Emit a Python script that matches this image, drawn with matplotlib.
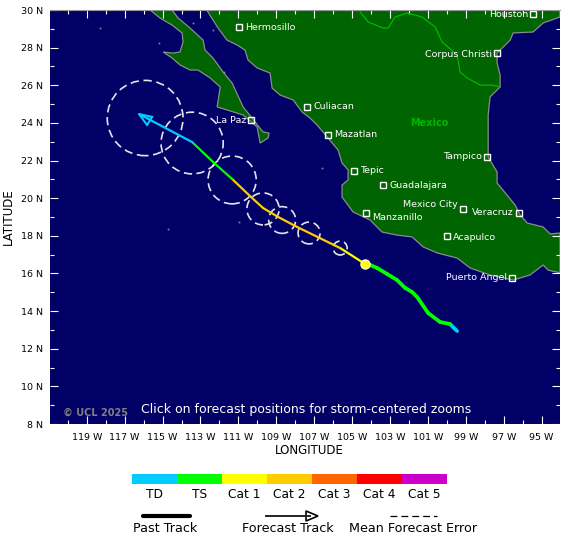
"""Hurricane track map: forecast track over Mexico's Pacific coast."""
import matplotlib
matplotlib.use("Agg")
import matplotlib.pyplot as plt
from matplotlib.patches import Ellipse, Polygon

W, H = 580, 544

SEA = "#000066"
LAND = "#006400"
COAST = "#8c8c8c"

CAT_NAMES = ["TD", "TS", "Cat 1", "Cat 2", "Cat 3", "Cat 4", "Cat 5"]
CAT_COLORS = ["#00ccff", "#00ff00", "#ffff00", "#ffcc00", "#ff6600", "#ff0000", "#cc00cc"]

# coastlines (degrees west, degrees north)
main_west_lon = [112.67, 112.34, 112.07, 111.60, 111.07, 110.65, 110.49, 110.01, 109.33, 109.22,
                 108.80, 108.11, 107.64, 107.22, 106.85, 106.27, 105.74, 105.53, 105.21, 105.21,
                 105.53, 105.53, 104.95, 104.05, 103.42, 102.63, 101.83, 101.25, 100.51, 99.46,
                 98.77, 97.72, 96.50, 95.61, 94.92, 94.66, 94.03]
main_west_lat = [30.00, 29.47, 29.04, 28.40, 28.14, 27.87, 27.34, 26.92, 26.65, 25.85,
                 25.48, 25.22, 24.58, 24.26, 23.89, 23.20, 22.56, 21.87, 21.50, 20.97,
                 20.70, 20.06, 19.27, 18.84, 18.20, 18.04, 17.94, 17.41, 17.09, 16.82,
                 16.29, 15.92, 15.65, 15.92, 16.45, 16.18, 16.03]
main_east_lon = [94.03, 94.55, 94.92, 95.76, 96.13, 96.40, 97.35, 97.35, 97.82, 97.82,
                 97.82, 97.72, 97.19, 97.19, 97.35, 97.35, 96.66, 96.50, 95.45, 94.92, 94.03, 94.03]
main_east_lat = [18.15, 18.10, 18.47, 18.68, 19.11, 19.64, 20.81, 21.39, 22.19, 23.46,
                 24.42, 25.38, 25.91, 26.55, 27.18, 27.71, 28.40, 28.78, 28.83, 29.31, 29.63, 30.00]
baja_lon = [115.66, 115.13, 114.50, 113.97, 113.92, 114.08, 114.45, 114.97, 114.50, 114.08,
            113.55, 113.13, 112.49, 111.96, 112.12, 111.60, 110.75, 110.01, 109.85, 109.43,
            109.38, 109.70, 110.12, 110.75, 111.33, 111.81, 112.34, 112.76, 112.86, 113.55,
            114.18, 114.50]
baja_lat = [30.00, 29.57, 29.20, 28.78, 28.30, 27.77, 27.71, 27.77, 27.45, 27.08,
            26.81, 26.81, 26.39, 25.91, 24.85, 24.69, 24.42, 23.78, 22.93, 23.20,
            23.46, 23.52, 24.05, 24.85, 26.12, 26.71, 27.45, 27.87, 28.40, 29.04,
            29.57, 30.00]
border_lon = [104.57, 104.15, 103.36, 103.10, 102.73, 102.10, 101.31, 100.62, 100.25, 99.46,
              99.30, 98.93, 98.24, 97.61, 97.19]
border_lat = [29.89, 29.36, 29.04, 29.04, 29.63, 29.84, 29.63, 29.10, 28.30, 27.61,
              26.70, 26.39, 26.01, 26.01, 25.91]
island_lon = [118.30, 115.19, 106.58, 110.96, 114.71, 113.39, 112.34, 111.75]
island_lat = [29.04, 28.25, 21.60, 18.74, 18.36, 29.31, 28.94, 26.70]

city_names = ["Hermosillo", "La Paz", "Culiacan", "Mazatlan", "Tepic", "Guadalajara", "Manzanillo",
              "Mexico City", "Veracruz", "Tampico", "Corpus Christi", "Houston", "Acapulco",
              "Puerto Angel"]
city_lon = [110.96, 110.33, 107.37, 106.27, 104.89, 103.36, 104.26,
            99.14, 96.19, 97.87, 97.35, 95.45, 99.99, 96.56]
city_lat = [29.09, 24.15, 24.85, 23.36, 21.45, 20.70, 19.21,
            19.43, 19.21, 22.19, 27.71, 29.79, 17.98, 15.76]
# label placement relative to the square: side, dy px
city_side = ["r", "l", "r", "r", "r", "r", "r", "l", "l", "l", "l", "l", "r", "l"]
city_dy = [0, 0, 0, 0, 0, 0, -4, 4, 1, 0, -1, -1, -1, 0]

past_lon = [99.46, 99.83, 100.36, 100.99, 101.57, 101.83, 102.20, 102.63, 103.15, 103.68, 104.05, 104.31]
past_lat = [12.94, 13.31, 13.42, 13.90, 14.75, 15.01, 15.23, 15.65, 15.97, 16.29, 16.45, 16.50]
past_cat = [0, 1, 1, 1, 1, 1, 1, 1, 1, 1, 1]

fcst_lon = [104.31, 105.63, 107.90, 108.90, 109.70, 110.33, 111.33, 112.28, 113.44, 116.24]
fcst_lat = [16.50, 17.35, 18.47, 19.00, 19.48, 20.06, 21.02, 21.87, 22.98, 24.47]
fcst_cat = [2, 3, 3, 3, 3, 3, 1, 1, 0]

err_lon = [115.92, 113.44, 111.33, 109.70, 108.69, 107.27, 105.63]
err_lat = [24.26, 22.93, 20.97, 19.43, 18.84, 18.15, 17.35]
err_radius = [2.00, 1.64, 1.27, 0.85, 0.71, 0.58, 0.37]

arrow_lon = [116.24, 115.82, 115.55]
arrow_lat = [24.47, 23.89, 24.32]

major_lons = list(range(119, 94, -2))
minor_lons = list(range(120, 94, -2))
major_lats = list(range(8, 31, 2))
minor_lats = list(range(9, 30, 2))

LON_MAX, LON_MIN = 120.94, 94.03


def px_text(fig, x, y, s, **kw):
    fig.text(x / W, 1 - y / H, s, va="center", **kw)


fig = plt.figure(figsize=(W / 100, H / 100), dpi=100)
ax = fig.add_axes([50 / W, 1 - 424 / H, 510 / W, 414 / H], facecolor=SEA)
ax.set_xlim(LON_MAX, LON_MIN)
ax.set_ylim(8, 30)

ax.add_patch(Polygon(list(zip(main_west_lon + main_east_lon, main_west_lat + main_east_lat)),
                     closed=True, fc=LAND, ec=COAST, lw=0.9, zorder=1))
ax.add_patch(Polygon(list(zip(baja_lon, baja_lat)), closed=True, fc=LAND, ec=COAST, lw=0.9, zorder=1))
ax.plot(border_lon, border_lat, color="#00c000", lw=0.8, zorder=2)
ax.plot(island_lon, island_lat, ls="none", marker="s", ms=1.2, mfc=COAST, mec="none", zorder=2)

for lon, lat, r in zip(err_lon, err_lat, err_radius):
    ax.add_patch(Ellipse((lon, lat), 2 * r, 2 * r, fc="none", ec="#e4e4ee", lw=1.2,
                         ls=(0, (5, 2.8)), zorder=3))

for i, cat in enumerate(past_cat):
    ax.plot(past_lon[i:i + 2], past_lat[i:i + 2], color=CAT_COLORS[cat], lw=2.7,
            solid_capstyle="round", zorder=4)
for i, cat in enumerate(fcst_cat):
    ax.plot(fcst_lon[i:i + 2], fcst_lat[i:i + 2], color=CAT_COLORS[cat], lw=1.6,
            solid_capstyle="round", zorder=4)
ax.add_patch(Polygon(list(zip(arrow_lon, arrow_lat)), closed=True, fc="none",
                     ec=CAT_COLORS[0], lw=1.5, zorder=4))
ax.plot(past_lon[-1], past_lat[-1], marker="o", ms=6.5, mfc="#ffff00", mec="#ffffcc", mew=1, zorder=5)

ax.plot(city_lon, city_lat, ls="none", marker="s", ms=4.8, mfc="none", mec="white", mew=1, zorder=5)
for name, lon, lat, side, dy in zip(city_names, city_lon, city_lat, city_side, city_dy):
    dx = 6 if side == "r" else -5
    ax.annotate(name, (lon, lat), xytext=(dx * 0.72, dy * 0.72), textcoords="offset points",
                ha="left" if side == "r" else "right", va="center", color="white",
                fontsize=6.8, zorder=6)
ax.text(100.94, 24.0, "Mexico", color="#00b400", fontsize=7, fontweight="bold",
        ha="center", va="center", zorder=3)

ax.set_xticks(major_lons)
ax.set_xticklabels([f"{v} W" for v in major_lons], fontsize=6.8)
ax.set_xticks(minor_lons, minor=True)
ax.set_yticks(major_lats)
ax.set_yticklabels([f"{v} N" for v in major_lats], fontsize=6.8)
ax.set_yticks(minor_lats, minor=True)
ax.tick_params(which="major", direction="in", length=5.8, width=0.8, color="white",
               top=True, right=True, pad=5)
ax.tick_params(axis="x", which="major", pad=6.5)
ax.tick_params(which="minor", direction="in", length=3.2, width=0.8, color="white",
               top=True, right=True)
for side in ["left", "right", "bottom"]:
    ax.spines[side].set_visible(False)
ax.spines["top"].set_color("#999999")

px_text(fig, 309, 451, "LONGITUDE", ha="center", fontsize=8.5)
px_text(fig, 8, 217, "LATITUDE", ha="center", fontsize=8.5, rotation=90)
px_text(fig, 63, 413, "\u00a9 UCL 2025", ha="left", fontsize=7, fontweight="bold", color="#808080")
px_text(fig, 306, 409, "Click on forecast positions for storm-centered zooms", ha="center",
        fontsize=9, color="white")

# category colour bar
bar_ax = fig.add_axes([132 / W, 1 - 484 / H, 315 / W, 10 / H])
bar_ax.bar(range(len(CAT_NAMES)), [1] * len(CAT_NAMES), width=1, color=CAT_COLORS)
bar_ax.set_xlim(-0.5, len(CAT_NAMES) - 0.5)
bar_ax.set_ylim(0, 1)
bar_ax.set_yticks([])
bar_ax.set_xticks(range(len(CAT_NAMES)))
bar_ax.set_xticklabels(CAT_NAMES, fontsize=8.8)
bar_ax.tick_params(length=0, pad=3)
for s in bar_ax.spines.values():
    s.set_visible(False)

# track key, drawn in pixel coordinates
key_ax = fig.add_axes([0, 0, 1, 1], facecolor="none")
key_ax.set_xlim(0, W)
key_ax.set_ylim(H, 0)
key_ax.axis("off")
key_ax.plot([143, 190], [516, 516], color="black", lw=3, solid_capstyle="round")
key_ax.plot([266, 310], [516, 516], color="#222222", lw=1.4)
key_ax.add_patch(Polygon([(318, 516), (306, 511), (306, 521)], closed=True, fc="white", ec="black", lw=1.2))
key_ax.plot([390, 437], [516, 516], color="black", lw=0.9, ls=(0, (5.5, 3.2)))
px_text(fig, 165, 528, "Past Track", ha="center", fontsize=9.2)
px_text(fig, 288, 528, "Forecast Track", ha="center", fontsize=9.2)
px_text(fig, 413, 528, "Mean Forecast Error", ha="center", fontsize=9.2)

fig.savefig("out.png", dpi=100)
